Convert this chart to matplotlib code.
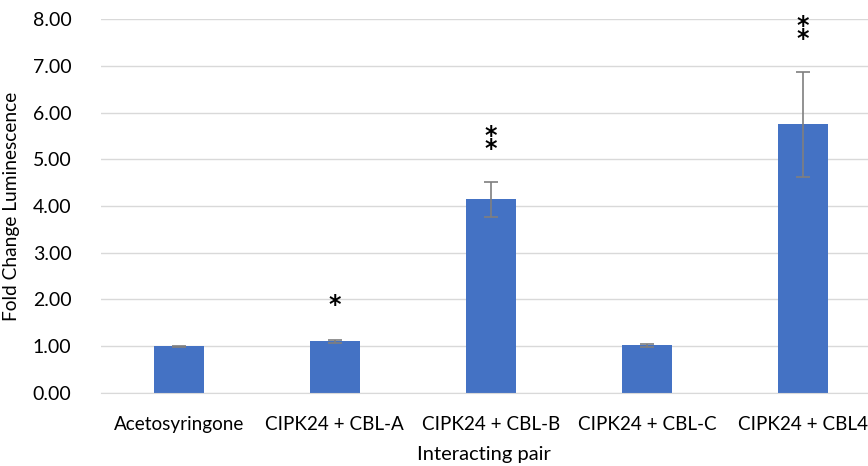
import numpy as np
import matplotlib.pyplot as plt

# datos
pares = ['Acetosyringone', 'CIPK24 + CBL-A', 'CIPK24 + CBL-B', 'CIPK24 + CBL-C', 'CIPK24 + CBL4']
fold_change = [1.00, 1.10, 4.14, 1.02, 5.75]
error = [0.01, 0.04, 0.37, 0.03, 1.12]
asteriscos = ['', '*', '*\n*', '', '*\n*']
y_asterisco = [0, 1.88, 5.36, 0, 7.72]

plt.rcParams['font.family'] = ['Lato', 'DejaVu Sans']

fig = plt.figure(figsize=(8.68, 4.66), dpi=100)
ax = fig.add_axes([0.116, 0.157, 0.884, 0.802])

x = np.arange(len(pares))
ax.bar(x, fold_change, width=0.32, color='#4472C4', zorder=2)
ax.errorbar(x, fold_change, yerr=error, fmt='none', ecolor='#7f7f7f',
            elinewidth=1.2, capsize=5, capthick=1.2, zorder=3)

for xi, s, ya in zip(x, asteriscos, y_asterisco):
    if s:
        ax.text(xi, ya, s, ha='center', va='center', fontsize=17,
                fontweight='bold', linespacing=0.42, family='DejaVu Sans')

ax.set_ylim(0, 8)
ax.set_xlim(-0.5, 4.417)
ax.set_yticks(np.arange(0, 9, 1))
ax.set_yticklabels([f'{v:.2f}' for v in range(9)])
ax.set_xticks(x)
ax.set_xticklabels(pares)

ax.grid(axis='y', color='#d9d9d9', linewidth=1, zorder=0)
for lado in ['top', 'right', 'left']:
    ax.spines[lado].set_visible(False)
ax.spines['bottom'].set_color('#d9d9d9')
ax.tick_params(axis='both', length=0, colors='#000000')
ax.tick_params(axis='y', pad=21, labelsize=14)
ax.tick_params(axis='x', pad=17, labelsize=13.6)

ax.set_ylabel('Fold Change Luminescence', fontsize=13.8, labelpad=9)
ax.set_xlabel('Interacting pair', fontsize=14.5, labelpad=9)

plt.savefig('out.png', dpi=100)
